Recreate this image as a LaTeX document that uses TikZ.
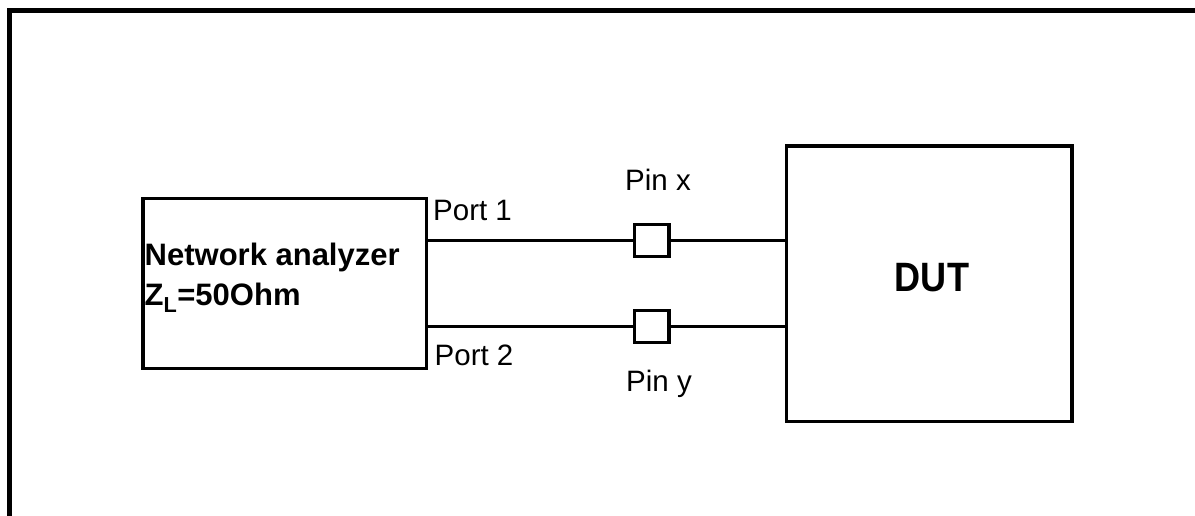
\documentclass[tikz,border=0pt]{standalone}
\usepackage{fontspec}
\setmainfont{Liberation Sans}
\begin{document}
\begin{tikzpicture}[x=1pt,y=-1pt,
  box/.style={draw,line width=3.3pt,inner sep=0pt,rectangle},
  pinbox/.style={box,minimum width=34.5pt,minimum height=32pt},
  wire/.style={line width=3.3pt},
  lbl/.style={inner sep=0pt,font=\fontsize{29.5}{34}\selectfont}]
\useasboundingbox (0,0) rectangle (1195,516);
% frame
\draw[line width=4.7pt,line join=miter] (9.5,516) -- (9.5,10.3) -- (1195,10.3);
% boxes
\node[box,minimum width=283.5pt,minimum height=170pt] (na) at (284.75,283.5) {};
\node[inner sep=0pt,anchor=north west,align=left,font=\bfseries\fontsize{31}{40}\selectfont] (natext) at (144.5,243.3) {Network analyzer\\Z\textsubscript{L}=50Ohm};
\node[box,minimum width=285.5pt,minimum height=275.5pt] (dut) at (929.25,283.75) {};
\node[inner sep=0pt,font=\bfseries\fontsize{41}{50}\selectfont] (duttext) at (932,278) {\scalebox{0.88}[1]{DUT}};
\node[pinbox] (px) at (651.8,240.5) {};
\node[pinbox] (py) at (651.8,326.5) {};
% wires
\draw[wire] (na.east |- px) -- (px.west);
\draw[wire] (px.east) -- (px.east -| dut.west);
\draw[wire] (na.east |- py) -- (py.west);
\draw[wire] (py.east) -- (py.east -| dut.west);
% labels
\node[lbl,anchor=base west] (p1) at (433,220) {Port 1};
\node[lbl,anchor=base west] (p2) at (434.5,365) {Port 2};
\node[lbl,anchor=base] (pxl) at (658,190.7) {Pin x};
\node[lbl,anchor=base] (pyl) at (659,391.5) {Pin y};
\end{tikzpicture}
\end{document}
